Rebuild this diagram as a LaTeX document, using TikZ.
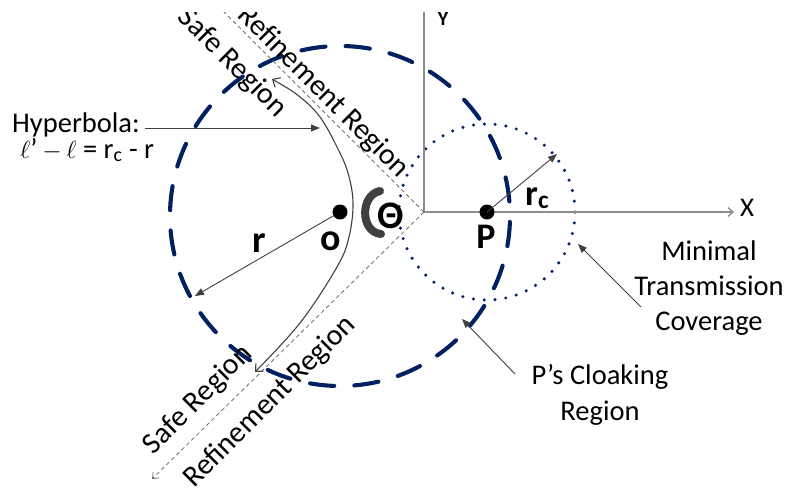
\documentclass[tikz,border=0pt]{standalone}
\usepackage{fontspec}
\setmainfont{Carlito}
\usetikzlibrary{arrows.meta}
\definecolor{navy}{HTML}{002060}
\definecolor{dgray}{HTML}{404040}
\definecolor{axgray}{HTML}{8C8C8C}
\definecolor{lgray}{HTML}{707070}
\newcommand{\myfs}[1]{\fontsize{#1}{#1}\selectfont}
\newcommand{\myfsb}[2]{\fontsize{#1}{#2}\selectfont}
\tikzset{
  cloak/.style={draw=navy, line width=4.1pt, dash pattern=on 24.3pt off 20.2pt, dash phase=29.9pt, line cap=round},
  txcov/.style={draw=navy, line width=3.4pt, dash pattern=on 0pt off 10.84pt, line cap=round},
  asym/.style={draw=lgray, line width=0.8pt, dash pattern=on 4pt off 3pt},
  axisline/.style={draw=axgray, line width=1.4pt},
  lead/.style={draw=dgray, line width=0.9pt, -{Triangle[length=9pt,width=7pt]}},
  hyp/.style={draw=dgray, line width=1.1pt},
  lbl/.style={font=\myfs{28.5}, inner sep=0pt},
  rlbl/.style={font=\myfs{29.8}, inner sep=0pt},
  blbl/.style={font=\bfseries\myfs{38}, inner sep=0pt},
  dotnode/.style={circle, fill=black, minimum size=15pt, inner sep=0pt},
  barb/.style={-{Straight Barb[length=5pt,width=9pt]}}
}
\begin{document}
\begin{tikzpicture}[x=1pt,y=-1pt]
\useasboundingbox (0,0) rectangle (790,493);
\clip (0,12) rectangle (790,493);
% coordinates
\coordinate (orig) at (424,212);
\coordinate (asymU) at (206,-6);
\coordinate (asymL) at (152,479);
\coordinate (ytop) at (424,0);
\coordinate (xend) at (734,212);
% circles
\draw[cloak] (340,216) circle[radius=170pt];
\draw[txcov] (487,212) circle[radius=88pt];
% axes
\draw[axisline] (orig) -- (ytop);
\draw[axisline, barb] (orig) -- (xend);
\node[font=\bfseries\myfs{20}, inner sep=0pt, anchor=base] (ylab) at (443,25) {Y};
\node[font=\myfs{27}, inner sep=0pt, anchor=base] (xlab) at (747,216) {X};
% asymptotes
\draw[asym] (orig) -- (asymU);
\draw[asym, -{Straight Barb[length=5pt,width=8pt]}] (orig) -- (asymL);
% hyperbola
\draw[hyp, {Straight Barb[length=6pt,width=11pt]}-{Straight Barb[length=6pt,width=11pt]}]
  plot[smooth, tension=0.6] coordinates {(272,79) (300,97) (320,117) (337,147) (348,173) (353,203) (349,237) (337,267) (300,323) (255,372)};
% dots
\node[dotnode] (O) at (340,212) {};
\node[dotnode] (P) at (487,212) {};
\coordinate (rTip) at (195,296);
\coordinate (rcTip) at (557,154);
\draw[lead] (O) -- (rTip);
\draw[lead] (P.center) -- (rcTip);
\node[blbl] (rlab) at (259,243) {r};
\node[blbl] (olab) at (331,241) {o};
\node[font=\bfseries\myfs{36}, inner sep=0pt] (plab) at (486,237) {P};
\node[font=\bfseries\myfs{36}, inner sep=0pt, anchor=base west] (rclab) at (525,205) {r\textsubscript{c}};
% theta
\draw[dgray, line width=8pt, line cap=round] (380,191) .. controls (360,195) and (360,232) .. (381,234);
\node[font=\bfseries\myfs{39}, inner sep=0pt] (theta) at (391,216) {Θ};
% hyperbola label
\node[lbl, anchor=base west] (hyplab) at (12,132) {Hyperbola:};
\node[lbl, anchor=base west] (hypeq) at (20,158) {$\ell$’\,$-$\,$\ell$ = r\textsubscript{c} - r};
\coordinate (hypA) at (145,128);
\coordinate (hypB) at (320,128);
\draw[lead] (hypA) -- (hypB);
% region labels
\node[rlbl, rotate=-45] (safeU) at (232,63) {Safe Region};
\node[rlbl, rotate=-45] (refU) at (323,92) {Refinement Region};
\node[rlbl, rotate=45] (safeL) at (198,400) {Safe Region};
\node[rlbl, rotate=45] (refL) at (270,402) {Refinement Region};
% coverage label
\node[inner sep=0pt, align=center, font={\myfsb{28.5}{35}}] (mtc) at (709,288) {Minimal\\Transmission\\Coverage};
\coordinate (mtcA) at (641,307);
\coordinate (mtcB) at (578,244);
\draw[lead] (mtcA) -- (mtcB);
% cloaking label
\node[inner sep=0pt, align=center, font={\myfsb{28.5}{35.5}}] (pcr) at (600,395) {P’s Cloaking\\Region};
\coordinate (pcrA) at (515,374);
\coordinate (pcrB) at (462,319);
\draw[lead] (pcrA) -- (pcrB);
\end{tikzpicture}
\end{document}
